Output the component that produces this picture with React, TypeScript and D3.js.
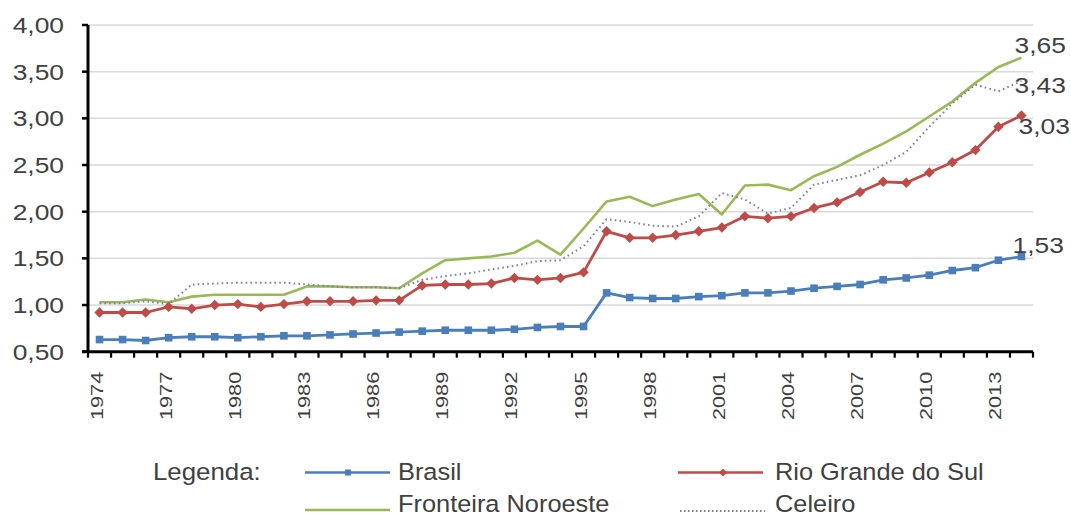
import React from "react";
import * as d3 from "d3";

const years: string[] = [
  "1974","1975","1976","1977","1978","1979","1980","1981","1982","1983",
  "1984","1985","1986","1987","1988","1989","1990","1991","1992","1993",
  "1994","1995","1996","1997","1998","1999","2000","2001","2002","2003",
  "2004","2005","2006","2007","2008","2009","2010","2011","2012","2013","2014",
];
const tickYears: string[] = ["1974","1977","1980","1983","1986","1989","1992","1995","1998","2001","2004","2007","2010","2013"];
const yTicks: number[] = [0.5, 1, 1.5, 2, 2.5, 3, 3.5, 4];

const brasil: number[] = [
  0.63,0.63,0.62,0.65,0.66,0.66,0.65,0.66,0.67,0.67,
  0.68,0.69,0.70,0.71,0.72,0.73,0.73,0.73,0.74,0.76,
  0.77,0.77,1.13,1.08,1.07,1.07,1.09,1.10,1.13,1.13,
  1.15,1.18,1.20,1.22,1.27,1.29,1.32,1.37,1.40,1.48,1.52,
];
const rioGrande: number[] = [
  0.92,0.92,0.92,0.98,0.96,1.00,1.01,0.98,1.01,1.04,
  1.04,1.04,1.05,1.05,1.21,1.22,1.22,1.23,1.29,1.27,
  1.29,1.35,1.79,1.72,1.72,1.75,1.79,1.83,1.95,1.93,
  1.95,2.04,2.10,2.21,2.32,2.31,2.42,2.53,2.66,2.91,3.03,
];
const fronteira: number[] = [
  1.03,1.03,1.06,1.03,1.09,1.11,1.11,1.11,1.11,1.20,
  1.20,1.19,1.19,1.18,1.34,1.48,1.50,1.52,1.56,1.69,
  1.54,1.82,2.11,2.16,2.06,2.13,2.19,1.97,2.28,2.29,
  2.23,2.38,2.48,2.61,2.73,2.86,3.02,3.18,3.38,3.55,3.65,
];
const celeiro: number[] = [
  1.02,1.02,1.04,1.01,1.22,1.23,1.24,1.24,1.24,1.22,
  1.20,1.19,1.19,1.18,1.27,1.31,1.34,1.38,1.42,1.47,
  1.48,1.63,1.92,1.89,1.85,1.84,1.95,2.20,2.13,1.98,
  2.04,2.29,2.34,2.39,2.50,2.64,2.91,3.16,3.36,3.29,3.40,
];
const endLabels: string[] = ["1,53", "3,03", "3,65", "3,43"];

const BLUE = "#4a7ebb";
const RED = "#be4b48";
const GREEN = "#98b954";
const PURPLE = "#7d7fae";
const TXT = "#404040";
const FONT = "'Liberation Sans', Arial, sans-serif";

const X0 = 88, X1 = 1033, Y0 = 351.7, Y1 = 25;

export default function App() {
  const x = d3.scaleBand<string>().domain(years).range([X0, X1]).padding(0);
  const cx = (yr: string) => (x(yr) as number) + x.bandwidth() / 2;
  const y = d3.scaleLinear().domain([0.5, 4]).range([Y0, Y1]);
  const line = d3.line<number>().x((_, i) => cx(years[i])).y((v) => y(v));
  const fmt = (v: number) => v.toFixed(2).replace(".", ",");

  const series = [
    { name: "Fronteira Noroeste", data: fronteira, color: GREEN, dash: undefined, marker: "none", w: 2.6 },
    { name: "Celeiro", data: celeiro, color: PURPLE, dash: "1.6 3.2", marker: "none", w: 2 },
    { name: "Rio Grande do Sul", data: rioGrande, color: RED, dash: undefined, marker: "diamond", w: 2.8 },
    { name: "Brasil", data: brasil, color: BLUE, dash: undefined, marker: "square", w: 2.8 },
  ];

  const diamond = (px: number, py: number, r: number) =>
    `M${px},${py - r}L${px + r},${py}L${px},${py + r}L${px - r},${py}Z`;

  const lastX = cx(years[years.length - 1]);
  const labelPos = [
    { v: brasil[brasil.length - 1], dx: -9, dy: -3, t: endLabels[0] },
    { v: rioGrande[rioGrande.length - 1], dx: -3, dy: 18, t: endLabels[1] },
    { v: fronteira[fronteira.length - 1], dx: -7, dy: -5, t: endLabels[2] },
    { v: celeiro[celeiro.length - 1], dx: -7, dy: 12, t: endLabels[3] },
  ];

  const boundaries = [...years.map((yr) => x(yr) as number), X1];

  return (
    <svg width={1071} height={516} style={{ position: "absolute", left: 0, top: 0, background: "#fff" }} fontFamily={FONT}>
      <rect width={1071} height={516} fill="#fff" />
      {/* gridlines */}
      {yTicks.slice(1).map((t) => (
        <line key={"g" + t} x1={X0} x2={X1} y1={y(t)} y2={y(t)} stroke="#d9d9d9" strokeWidth={1.5} />
      ))}
      {/* y ticks + labels */}
      {yTicks.map((t) => (
        <g key={"yt" + t}>
          <line x1={X0 - 6} x2={X0} y1={y(t)} y2={y(t)} stroke="#000" strokeWidth={2.5} />
          <text transform={`translate(64,${y(t) + 8}) scale(1.2,1)`} textAnchor="end" fontSize={22} fill={TXT}>
            {fmt(t)}
          </text>
        </g>
      ))}
      {/* x ticks */}
      {boundaries.map((b, i) => (
        <line key={"xt" + i} x1={b} x2={b} y1={Y0} y2={Y0 + 6} stroke="#000" strokeWidth={2.2} />
      ))}
      {tickYears.map((yr) => (
        <text key={"xl" + yr} transform={`translate(${cx(yr) + 3},${Y0 + 20}) rotate(-90) scale(1.28,1)`} textAnchor="end" fontSize={17} fill={TXT}>
          {yr}
        </text>
      ))}
      {/* series */}
      {series.map((s) => (
        <g key={s.name}>
          <path d={line(s.data) as string} fill="none" stroke={s.color} strokeWidth={s.w} strokeDasharray={s.dash} strokeLinejoin="round" />
          {s.marker === "square" &&
            s.data.map((v, i) => (
              <rect key={i} x={cx(years[i]) - 3.8} y={y(v) - 3.8} width={7.6} height={7.6} fill={s.color} />
            ))}
          {s.marker === "diamond" &&
            s.data.map((v, i) => <path key={i} d={diamond(cx(years[i]), y(v), 5.2)} fill={s.color} />)}
        </g>
      ))}
      {/* axes */}
      <line x1={X0} x2={X0} y1={Y1} y2={Y0} stroke="#000" strokeWidth={3} />
      <line x1={X0 - 6} x2={X1} y1={Y0} y2={Y0} stroke="#000" strokeWidth={3} />
      {/* end labels */}
      {labelPos.map((l) => (
        <text key={l.t} transform={`translate(${lastX + l.dx},${y(l.v) + l.dy}) scale(1.2,1)`} fontSize={22} fill={TXT}>
          {l.t}
        </text>
      ))}
      {/* legend */}
      <g fontSize={23.5} fill={TXT}>
        <text transform="translate(153,480) scale(1.1,1)">Legenda:</text>
        <line x1={305} x2={390} y1={472.5} y2={472.5} stroke={BLUE} strokeWidth={2.5} />
        <rect x={345} y={469.5} width={6} height={6} fill={BLUE} />
        <text transform="translate(398,480) scale(1.08,1)">Brasil</text>
        <line x1={678} x2={763} y1={472.5} y2={472.5} stroke={RED} strokeWidth={2.5} />
        <path d={diamond(723, 472.5, 4)} fill={RED} />
        <text transform="translate(775,480) scale(1.08,1)">Rio Grande do Sul</text>
        <line x1={305} x2={390} y1={510} y2={510} stroke={GREEN} strokeWidth={2.5} />
        <text transform="translate(398,512) scale(1.08,1)">Fronteira Noroeste</text>
        <line x1={680} x2={765} y1={511} y2={511} stroke={PURPLE} strokeWidth={2} strokeDasharray="1.6 2.4" />
        <text transform="translate(775,512) scale(1.08,1)">Celeiro</text>
      </g>
    </svg>
  );
}
